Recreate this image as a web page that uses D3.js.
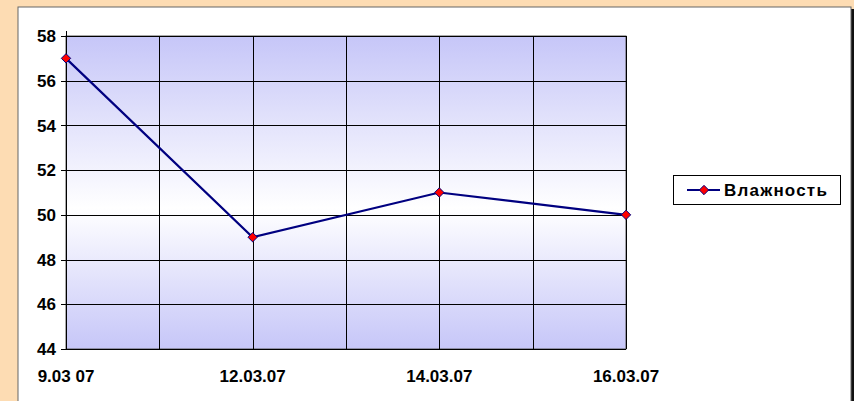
<!DOCTYPE html>
<html>
<head>
<meta charset="utf-8">
<script src="https://cdn.jsdelivr.net/npm/d3@7"></script>
<style>
  html, body { margin: 0; padding: 0; background: #fddcb3; overflow: hidden; }
  text { font-family: Arial, "Liberation Sans", sans-serif; font-weight: bold; fill: #000; }
</style>
</head>
<body>
<svg id="chart" width="854" height="401"></svg>
<script>
// chart values
var dates = ["9.03 07", "12.03.07", "14.03.07", "16.03.07"];
var humidity = [57, 49, 51, 50];
var seriesName = "Влажность";
var yTicks = [44, 46, 48, 50, 52, 54, 56, 58];

(function () {
	var svg = d3.select("#chart");
	var plot = { left: 66, right: 626, top: 36, bottom: 349 };

	var x = d3.scaleLinear().domain([0, dates.length - 1]).range([plot.left, plot.right]);
	var y = d3.scaleLinear().domain([44, 58]).range([plot.bottom, plot.top]);

	// chart area with a dark shadow on the right
	svg.append("rect").attr("x", 20).attr("y", 9).attr("width", 834).attr("height", 400).attr("fill", "#111");
	svg.append("rect").attr("x", 18).attr("y", 7).attr("width", 833).attr("height", 400)
		.attr("fill", "#fff").attr("stroke", "#666").attr("stroke-width", 1);

	// plot background gradient, lavender - white - lavender
	var grad = svg.append("defs").append("linearGradient")
		.attr("id", "plotGrad").attr("x1", 0).attr("y1", 0).attr("x2", 0).attr("y2", 1);
	grad.append("stop").attr("offset", "0%").attr("stop-color", "#c6c6f8");
	grad.append("stop").attr("offset", "55%").attr("stop-color", "#ffffff");
	grad.append("stop").attr("offset", "100%").attr("stop-color", "#c6c6f8");

	svg.append("rect")
		.attr("x", plot.left).attr("y", plot.top)
		.attr("width", plot.right - plot.left).attr("height", plot.bottom - plot.top)
		.attr("fill", "url(#plotGrad)").attr("stroke", "#555").attr("stroke-width", 1);

	// grid: horizontal on y ticks, vertical every half step between dates
	svg.append("g").selectAll("line").data(yTicks).join("line")
		.attr("x1", plot.left - 5).attr("x2", plot.right)
		.attr("y1", function (d) { return Math.round(y(d)) + 0.5; })
		.attr("y2", function (d) { return Math.round(y(d)) + 0.5; })
		.attr("stroke", "#000").attr("stroke-width", 1);

	svg.append("g").selectAll("line").data(d3.range(0, dates.length - 0.5, 0.5)).join("line")
		.attr("x1", function (d) { return Math.round(x(d)) + 0.5; })
		.attr("x2", function (d) { return Math.round(x(d)) + 0.5; })
		.attr("y1", function (d) { return d === 0 ? plot.top - 5 : plot.top; })
		.attr("y2", plot.bottom)
		.attr("stroke", "#000").attr("stroke-width", 1);

	// y axis labels
	svg.append("g").selectAll("text").data(yTicks).join("text")
		.attr("x", 56).attr("y", function (d) { return y(d); })
		.attr("dy", "0.36em").attr("text-anchor", "end")
		.style("font-size", "17px")
		.text(function (d) { return d; });

	// x axis labels
	svg.append("g").selectAll("text").data(dates).join("text")
		.attr("x", function (d, i) { return x(i); }).attr("y", 382)
		.attr("text-anchor", "middle")
		.style("font-size", "17px")
		.text(function (d) { return d; });

	// series line
	var line = d3.line().x(function (d, i) { return x(i); }).y(function (d) { return y(d); });
	svg.append("path").datum(humidity)
		.attr("d", line).attr("fill", "none")
		.attr("stroke", "#000080").attr("stroke-width", 2.2);

	var diamond = d3.symbol().type(d3.symbolDiamond2).size(56);
	svg.append("g").selectAll("path").data(humidity).join("path")
		.attr("d", diamond)
		.attr("transform", function (d, i) { return "translate(" + x(i) + "," + y(d) + ")"; })
		.attr("fill", "#ff0000").attr("stroke", "#000080").attr("stroke-width", 1);

	// legend
	var lg = svg.append("g").attr("transform", "translate(673,175)");
	lg.append("rect").attr("x", 0.5).attr("y", 0.5).attr("width", 167).attr("height", 29)
		.attr("fill", "#fff").attr("stroke", "#000").attr("stroke-width", 1);
	lg.append("line").attr("x1", 14).attr("x2", 47).attr("y1", 15).attr("y2", 15)
		.attr("stroke", "#000080").attr("stroke-width", 2.2);
	lg.append("path").attr("d", diamond).attr("transform", "translate(31,15)")
		.attr("fill", "#ff0000").attr("stroke", "#000080").attr("stroke-width", 1);
	lg.append("text").attr("x", 51).attr("y", 15).attr("dy", "0.36em")
		.style("font-size", "17px").style("letter-spacing", "1.2px")
		.text(seriesName);
})();
</script>
</body>
</html>
